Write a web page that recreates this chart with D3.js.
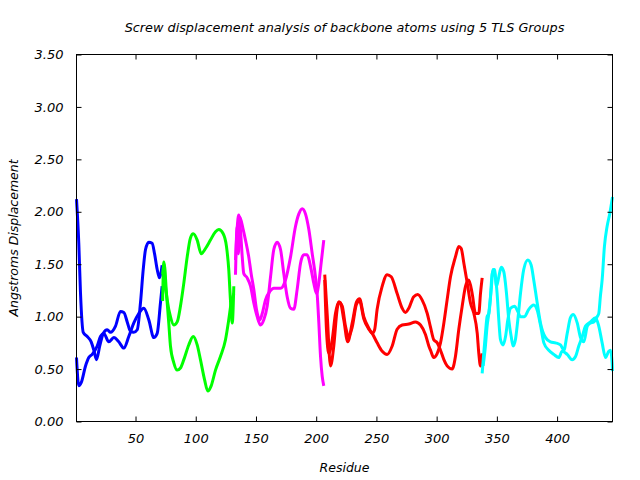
<!DOCTYPE html>
<html>
<head>
<meta charset="utf-8">
<script src="https://cdn.jsdelivr.net/npm/d3@7"></script>
<style>
  html, body { margin: 0; padding: 0; background: #fff; }
  svg { display: block; }
  text { font-family: "DejaVu Sans", sans-serif; font-style: italic; fill: #000; }
</style>
</head>
<body>
<svg id="chart" width="640" height="480"></svg>
<script>
const title = 'Screw displacement analysis of backbone atoms using 5 TLS Groups';
const xLabel = 'Residue';
const yLabel = 'Angstroms Displacement';
const xTicks = [50, 100, 150, 200, 250, 300, 350, 400];
const yTicks = [0, 0.5, 1, 1.5, 2, 2.5, 3, 3.5];

// [residue, displacement], two traces per TLS group
const group1a = [[1,2.12],[2.9,1.70],[4.3,1.23],[6.6,0.85],[9.9,0.81],[13.2,0.76],[15.4,0.68],[17.6,0.59],[20.3,0.72],[23.2,0.84],[26.5,0.875],[29.2,0.85],[33.4,0.91],[37.5,1.05],[40.3,1.04],[43.1,0.95],[45.8,0.86],[48.5,0.85],[51.4,0.875],[54.1,1.13],[56.4,1.45],[58.3,1.64],[61.0,1.71],[63.8,1.70],[65.8,1.60],[68.0,1.45],[69.9,1.37],[71.6,1.45],[72.1,1.49]];
const group1b = [[1,0.61],[2.9,0.34],[4.9,0.37],[8.5,0.53],[11.2,0.61],[14.0,0.64],[18.2,0.72],[20.9,0.81],[23.7,0.84],[27.8,0.76],[32.0,0.80],[36.1,0.76],[40.3,0.70],[44.4,0.81],[48.6,0.94],[52.7,1.03],[56.9,1.08],[61.0,0.97],[65.2,0.80],[68.0,0.84],[70.7,1.13],[72.1,1.29]];
const group2a = [[72.5,1.15],[73.5,1.52],[74.8,1.30],[76.3,1.16],[79.0,1.00],[81.8,0.92],[84.6,0.95],[87.3,1.10],[90.1,1.32],[92.9,1.57],[95.6,1.75],[97.9,1.79],[101.2,1.73],[104.5,1.60],[108.1,1.65],[112.2,1.73],[116.4,1.81],[119.1,1.83],[122.8,1.79],[125.5,1.67],[127.4,1.45],[128.8,1.16],[130.3,0.94],[131.6,1.29]];
const group2b = [[72.5,1.40],[73.8,1.50],[75.7,1.22],[77.6,0.94],[79.0,0.72],[81.8,0.56],[84.6,0.49],[87.3,0.51],[90.1,0.59],[94.2,0.73],[97.9,0.81],[101.2,0.73],[103.9,0.59],[107.3,0.40],[110.0,0.29],[112.8,0.34],[116.4,0.49],[120.5,0.62],[124.7,0.78],[127.4,0.97],[129.4,1.13],[131.6,1.22]];
const group3a = [[133.0,1.54],[135.7,1.97],[137.1,1.83],[138.6,1.57],[139.9,1.41],[142.7,1.37],[145.5,1.29],[148.2,1.13],[151.0,1.00],[153.8,0.92],[156.5,0.97],[159.3,1.10],[162.1,1.38],[164.8,1.64],[167.6,1.71],[170.4,1.64],[173.1,1.41],[175.9,1.19],[178.7,1.08],[181.4,1.07],[184.2,1.26],[187.0,1.51],[189.7,1.59],[192.5,1.59],[195.3,1.48],[198.0,1.32],[200.3,1.22],[202.2,1.32],[204.1,1.51],[206.3,1.73]];
const group3b = [[133.0,1.40],[134.4,1.86],[135.5,1.60],[136.5,1.95],[139.4,1.83],[141.3,1.73],[144.0,1.57],[146.0,1.41],[148.2,1.26],[150.4,1.07],[153.2,0.97],[155.2,1.03],[157.9,1.16],[161.5,1.24],[164.8,1.27],[170.4,1.27],[174.5,1.35],[178.7,1.57],[182.8,1.86],[185.6,1.98],[188.4,2.03],[191.1,1.98],[193.9,1.83],[196.7,1.60],[199.4,1.38],[200.8,1.22],[202.2,0.94],[203.6,0.62],[205.0,0.43],[206.3,0.34]];
const group4a = [[207.1,1.40],[209.1,1.03],[211.9,0.53],[214.6,0.72],[217.4,1.07],[218.8,1.14],[220.2,1.13],[222.9,0.97],[226.2,0.76],[229.9,0.94],[233.5,1.14],[236.0,1.17],[239.5,1.00],[243.7,0.89],[246.5,0.84],[248.5,0.875],[250.6,1.07],[254.8,1.29],[258.9,1.40],[262.3,1.38],[267.2,1.22],[271.4,1.08],[274.1,1.04],[276.9,1.08],[281.0,1.19],[284.3,1.21],[287.9,1.16],[292.2,1.03],[294.9,0.90],[297.6,0.78],[300.5,0.75],[303.2,0.68],[306.0,0.59],[308.7,0.53],[312.9,0.50],[315.6,0.62],[318.4,0.88],[321.2,1.10],[324.0,1.29],[326.7,1.35],[329.5,1.22],[332.3,1.03],[335.0,1.03],[336.4,1.22],[337.8,1.37]];
const group4b = [[207.1,1.35],[208.5,0.88],[210.5,0.65],[213.3,0.78],[216.0,1.03],[218.8,1.14],[221.6,1.10],[224.3,0.91],[227.1,0.81],[229.9,0.90],[233.5,1.12],[236.0,1.15],[239.5,0.98],[243.2,0.89],[246.5,0.84],[250.6,0.75],[254.8,0.67],[258.9,0.64],[263.1,0.72],[267.2,0.88],[271.4,0.92],[276.9,0.93],[282.4,0.95],[286.6,0.92],[290.7,0.83],[293.5,0.72],[294.9,0.68],[297.6,0.61],[300.5,0.65],[303.2,0.75],[306.0,0.94],[308.7,1.16],[311.5,1.38],[315.6,1.57],[318.4,1.67],[320.4,1.65],[322.6,1.51],[325.4,1.32],[328.1,1.13],[330.9,1.03],[333.7,0.84],[335.0,0.65],[336.4,0.53],[337.8,0.65]];
const group5a = [[337.8,0.46],[339.1,0.65],[340.5,0.84],[341.9,1.00],[343.3,1.03],[345.3,1.26],[346.9,1.45],[348.8,1.38],[350.2,1.22],[351.6,0.97],[353.0,0.78],[355.2,0.73],[357.2,0.81],[359.1,0.97],[361.3,1.08],[364.6,1.10],[367.4,1.05],[369.6,1.00],[372.9,1.00],[376.5,1.07],[380.6,1.11],[383.5,1.06],[386.2,0.92],[389.0,0.75],[393.1,0.68],[397.3,0.64],[401.4,0.61],[404.2,0.67],[408.4,0.64],[412.5,0.59],[415.3,0.62],[418.0,0.72],[420.9,0.81],[423.6,0.91],[427.7,0.95],[431.9,0.99],[434.6,0.91],[437.4,0.75],[440.2,0.61],[442.9,0.67],[444.3,0.68],[445.7,0.56],[446,0.48]];
const group5b = [[338.6,0.53],[340.5,0.72],[341.9,0.91],[343.3,1.03],[344.7,1.19],[346.1,1.41],[348.0,1.45],[349.7,1.29],[351.6,1.38],[353.6,1.47],[355.7,1.43],[358.0,1.22],[359.9,0.97],[361.9,0.81],[363.5,0.72],[365.4,0.78],[367.4,0.97],[369.6,1.22],[372.3,1.45],[375.7,1.54],[378.5,1.49],[380.6,1.35],[383.5,1.13],[386.2,0.94],[390.4,0.80],[394.5,0.76],[398.7,0.75],[402.8,0.73],[405.6,0.68],[408.4,0.84],[411.1,0.99],[413.4,1.02],[416.7,0.94],[419.5,0.80],[422.2,0.76],[425.1,0.91],[427.7,0.94],[430.5,0.95],[433.3,1.00],[434.6,1.03],[436.0,1.20],[437.4,1.35],[439.3,1.67],[441.5,1.86],[443.7,1.98],[446,2.14]];

const groups = [
  { color: '#0000ff', traces: [group1a, group1b] },
  { color: '#00ff00', traces: [group2a, group2b] },
  { color: '#ff00ff', traces: [group3a, group3b] },
  { color: '#ff0000', traces: [group4a, group4b] },
  { color: '#00ffff', traces: [group5a, group5b] },
];

const margin = { left: 76.5, right: 612.5, top: 54.5, bottom: 421.5 };
const svg = d3.select('#chart');

const x = d3.scaleLinear().domain([1, 446]).range([margin.left, margin.right]);
const y = d3.scaleLinear().domain([0, 3.5]).range([margin.bottom, margin.top]);

const line = d3.line()
  .x((d) => x(d[0]))
  .y((d) => y(d[1]))
  .curve(d3.curveMonotoneX);

const plot = svg.append('g');
for (const group of groups) {
  for (const trace of group.traces) {
    plot.append('path')
      .datum(trace)
      .attr('fill', 'none')
      .attr('stroke', group.color)
      .attr('stroke-width', 3)
      .attr('stroke-linejoin', 'round')
      .attr('d', line);
  }
}

// frame with mirrored inward ticks
const tickLen = 5;
const frame = svg.append('g').attr('stroke', '#000').attr('stroke-width', 1).attr('fill', 'none');
frame.append('rect')
  .attr('x', margin.left).attr('y', margin.top)
  .attr('width', margin.right - margin.left)
  .attr('height', margin.bottom - margin.top);

const xAxisBottom = d3.axisBottom(x).tickValues(xTicks).tickSize(-tickLen).tickFormat(d3.format('d')).tickPadding(12);
const xAxisTop = d3.axisTop(x).tickValues(xTicks).tickSize(-tickLen).tickFormat('');
const yAxisLeft = d3.axisLeft(y).tickValues(yTicks).tickSize(-tickLen).tickFormat(d3.format('.2f')).tickPadding(13);
const yAxisRight = d3.axisRight(y).tickValues(yTicks).tickSize(-tickLen).tickFormat('');

function styleAxis(g) {
  g.select('.domain').remove();
  g.selectAll('line').attr('stroke', '#000');
  g.selectAll('text')
    .attr('font-family', '"DejaVu Sans", sans-serif')
    .attr('font-style', 'italic')
    .attr('font-size', 13)
    .attr('fill', '#000');
}

svg.append('g').attr('transform', `translate(0,${margin.bottom})`).call(xAxisBottom).call(styleAxis);
svg.append('g').attr('transform', `translate(0,${margin.top})`).call(xAxisTop).call(styleAxis);
svg.append('g').attr('transform', `translate(${margin.left},0)`).call(yAxisLeft).call(styleAxis);
svg.append('g').attr('transform', `translate(${margin.right},0)`).call(yAxisRight).call(styleAxis);

svg.append('text')
  .attr('x', (margin.left + margin.right) / 2)
  .attr('y', 32)
  .attr('text-anchor', 'middle')
  .attr('font-size', 12.8)
  .text(title);

svg.append('text')
  .attr('x', (margin.left + margin.right) / 2)
  .attr('y', 472)
  .attr('text-anchor', 'middle')
  .attr('font-size', 12.5)
  .text(xLabel);

svg.append('text')
  .attr('transform', `translate(18,${(margin.top + margin.bottom) / 2}) rotate(-90)`)
  .attr('text-anchor', 'middle')
  .attr('font-size', 12.5)
  .text(yLabel);
</script>
</body>
</html>
